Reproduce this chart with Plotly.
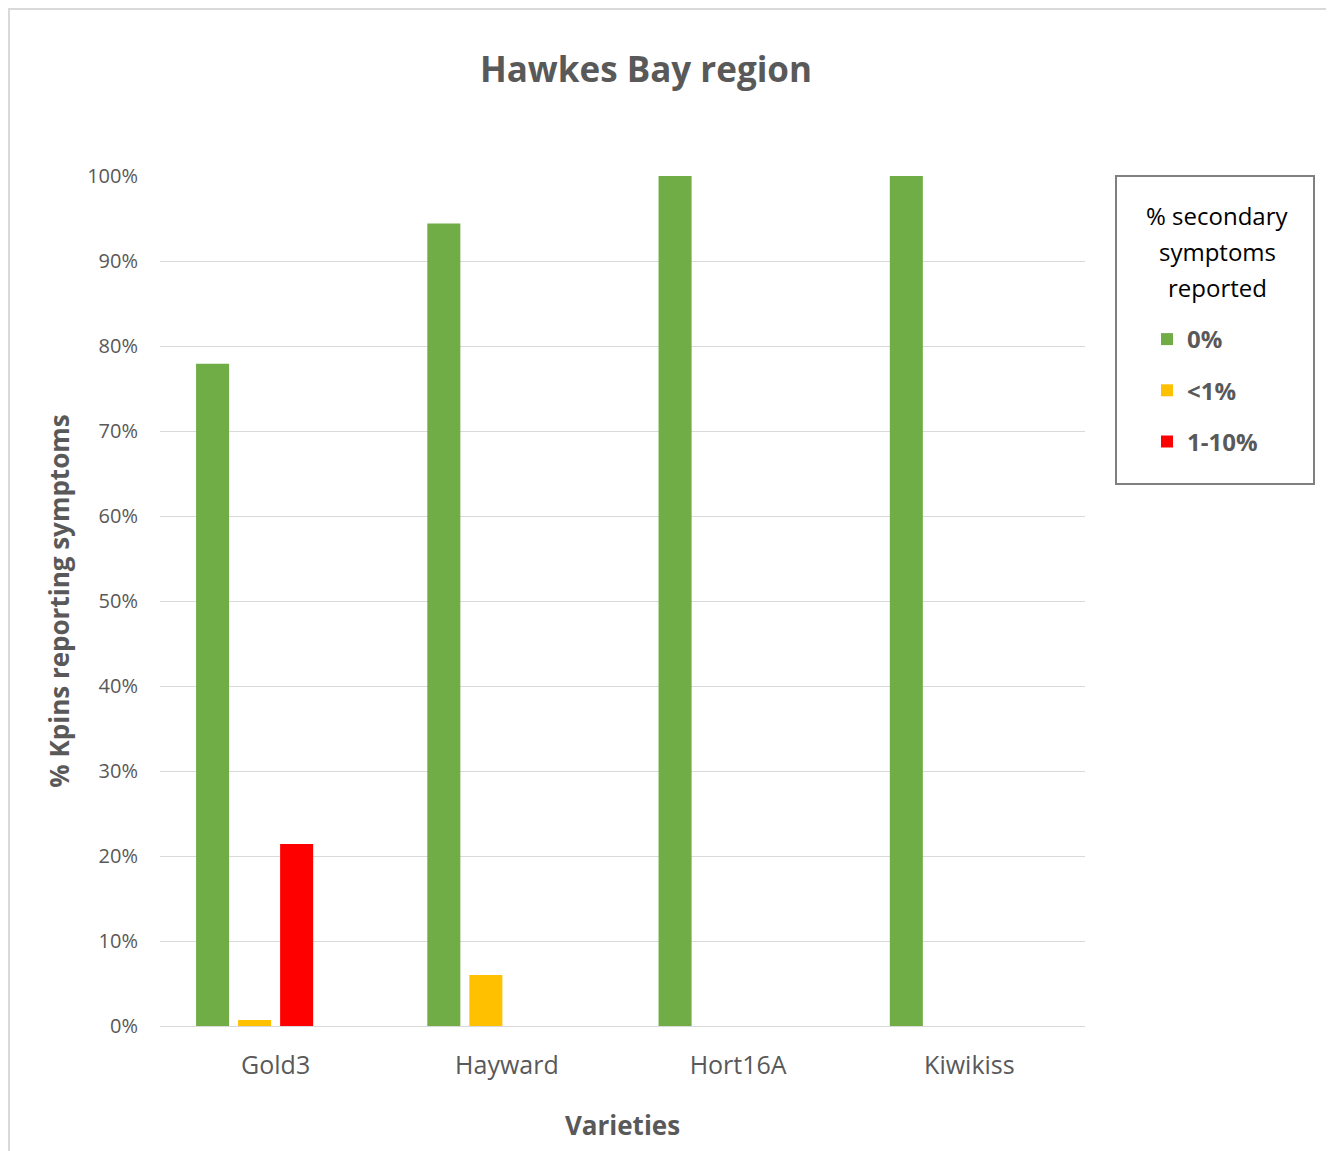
import plotly.graph_objects as go

categories = ["Gold3", "Hayward", "Hort16A", "Kiwikiss"]
series_names = ["0%", "<1%", "1-10%", ">10%"]
values_0 = [77.9, 94.4, 100.0, 100.0]
values_lt1 = [0.7, 6.0, None, None]
values_1_10 = [21.4, None, None, None]
values_gt10 = [None, None, None, None]
colors = ["#70AD47", "#FFC000", "#FF0000", "#A5A5A5"]
y_ticks = [0, 10, 20, 30, 40, 50, 60, 70, 80, 90, 100]
legend_title_lines = ["% secondary", "symptoms", "reported"]

FONT = "Open Sans"
GRAY = "#595959"
OFF = 8  # page body margin

fig = go.Figure()
all_vals = [values_0, values_lt1, values_1_10, values_gt10]
for i, (name, vals) in enumerate(zip(series_names, all_vals)):
    fig.add_trace(go.Bar(
        x=categories, y=vals, name=name,
        marker=dict(color=colors[i], line=dict(width=0)),
        legendgroup=name, showlegend=(i < 3),
    ))

W, H = 1334 - OFF, 1151 - OFF
L, R, T, B = 160 - OFF, 249, 176 - OFF, 125
pw, ph = W - L - R, H - T - B

def px_x(x):
    return (x - OFF - L) / pw

def px_y(y):
    return (H - B - (y - OFF)) / ph

annotations = []
for k, line in enumerate(legend_title_lines):
    annotations.append(dict(
        text=line, x=px_x(1217), y=px_y(215 + 36 * k), xref="paper", yref="paper",
        xanchor="center", yanchor="middle", showarrow=False,
        font=dict(family=FONT, size=24, color="black"),
    ))

fig.update_layout(
    width=W, height=H,
    margin=dict(l=L, r=R, t=T, b=B, autoexpand=False),
    paper_bgcolor="white", plot_bgcolor="white",
    barmode="group", bargap=0.273, bargroupgap=0.214,
    title=dict(text="<b>Hawkes Bay region</b>", x=px_x(646), xref="paper", xanchor="center",
               y=1 - (70 - OFF) / H, yanchor="middle",
               font=dict(family=FONT, size=35, color=GRAY)),
    font=dict(family=FONT, color=GRAY),
    xaxis=dict(
        title=dict(text="<b>Varieties</b>", font=dict(size=26, color=GRAY), standoff=36),
        tickfont=dict(size=25, color=GRAY),
        showline=True, linecolor="#D9D9D9", linewidth=1,
        ticks="", showgrid=False, ticklabelstandoff=17,
    ),
    yaxis=dict(
        title=dict(text="<b>% Kpins reporting symptoms</b>", font=dict(size=26, color=GRAY), standoff=10),
        range=[0, 100], tickvals=y_ticks, ticktext=[f"{v}%" for v in y_ticks],
        tickfont=dict(size=20, color=GRAY),
        showgrid=True, gridcolor="#D9D9D9", gridwidth=1,
        zeroline=False, ticks="", ticklabelstandoff=21,
    ),
    legend=dict(
        x=px_x(1147), y=px_y(317), xanchor="left", yanchor="top",
        xref="paper", yref="paper",
        bgcolor="rgba(0,0,0,0)", borderwidth=0,
        font=dict(family=FONT, size=24, color=GRAY, weight="bold"),
        tracegroupgap=17, itemwidth=30,
    ),
    annotations=annotations,
    shapes=[
        dict(type="rect", xref="paper", yref="paper",
             x0=px_x(1116), x1=px_x(1314), y0=px_y(484), y1=px_y(176),
             line=dict(color="#808080", width=2), fillcolor="rgba(0,0,0,0)", layer="above"),
        dict(type="rect", xref="paper", yref="paper",
             x0=px_x(OFF + 1), x1=px_x(1331), y0=px_y(1160), y1=px_y(OFF + 1),
             line=dict(color="#D9D9D9", width=2), fillcolor="rgba(0,0,0,0)", layer="below"),
    ],
)

fig.write_html("out.html")
